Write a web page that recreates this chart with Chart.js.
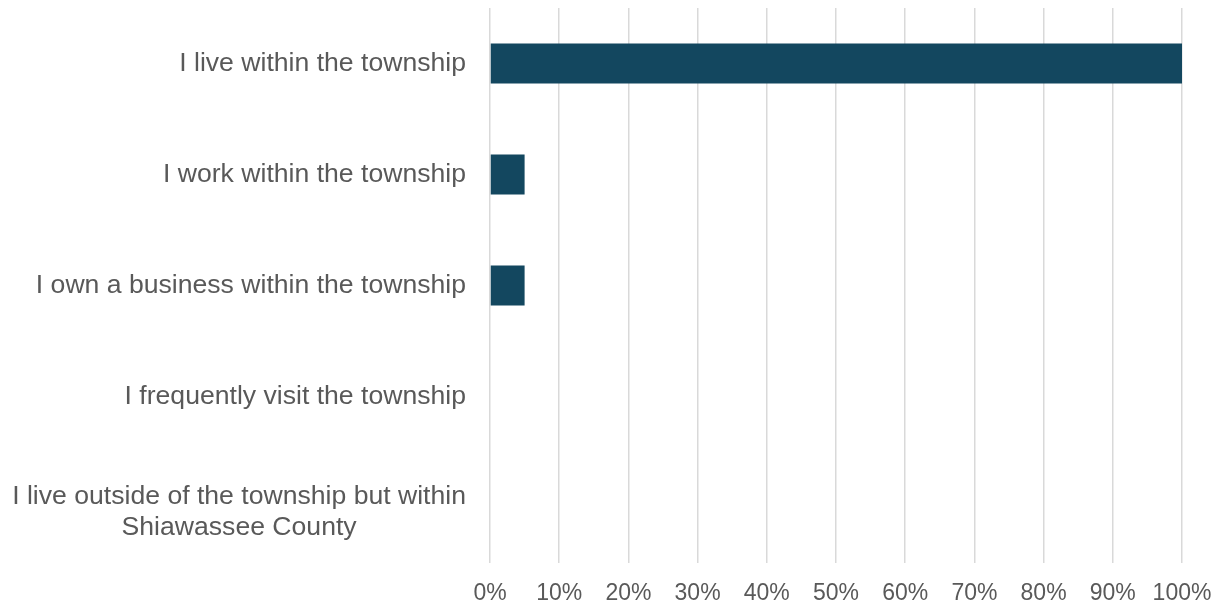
<!DOCTYPE html>
<html lang="en">
<head>
  <meta charset="UTF-8">
  <title>Relationship to the township</title>
  <script src="https://cdn.jsdelivr.net/npm/chart.js"></script>
  <style>
    html, body { margin: 0; padding: 0; background: #fff; }
    .wrap { width: 1217px; height: 605px; }
  </style>
</head>
<body>
  <div class="wrap"><canvas id="chart"></canvas></div>
  <script>
    // categories (multi-line labels are arrays)
    const categories = [
      'I live within the township',
      'I work within the township',
      'I own a business within the township',
      'I frequently visit the township',
      ['I live outside of the township but within', 'Shiawassee County']
    ];
    // share of respondents, percent
    const shares = [100, 5, 5, 0, 0];
    const xTicks = [0, 10, 20, 30, 40, 50, 60, 70, 80, 90, 100];

    const fontFamily = '"Liberation Sans", Arial, sans-serif';
    const labelFont = '26.6px ' + fontFamily;
    const textGray = '#595959';

    // Excel-style y labels: block right-aligned, lines centred within the block
    const yLabelPlugin = {
      id: 'yLabels',
      afterDraw(chart) {
        const ctx = chart.ctx;
        const y = chart.scales.y;
        const right = y.right - 24;
        ctx.save();
        ctx.font = labelFont;
        ctx.fillStyle = textGray;
        ctx.textAlign = 'center';
        ctx.textBaseline = 'middle';
        categories.forEach((lab, i) => {
          const lines = Array.isArray(lab) ? lab : [lab];
          const w = Math.max(...lines.map(l => ctx.measureText(l).width));
          const cx = right - w / 2;
          const cy = y.getPixelForTick(i) + (lines.length > 1 ? 5 : 0);
          const lh = 31;
          lines.forEach((l, j) => {
            ctx.fillText(l, cx, cy + (j - (lines.length - 1) / 2) * lh);
          });
        });
        ctx.restore();
      }
    };

    new Chart(document.getElementById('chart'), {
      type: 'bar',
      data: {
        labels: categories,
        datasets: [{
          data: shares,
          backgroundColor: '#13475f',
          barThickness: 40,
          inflateAmount: 0
        }]
      },
      options: {
        indexAxis: 'y',
        responsive: true,
        maintainAspectRatio: false,
        animation: false,
        layout: { padding: { top: 8, right: 35, bottom: 0, left: 0 } },
        plugins: {
          legend: { display: false },
          tooltip: { enabled: false }
        },
        scales: {
          x: {
            min: 0,
            max: 100,
            afterBuildTicks(scale) {
              scale.ticks = xTicks.map(v => ({ value: v }));
            },
            afterFit(scale) {
              scale.height = 42;
              scale.paddingLeft = 0;
              scale.paddingRight = 0;
              scale.paddingBottom = 0;
            },
            ticks: {
              color: textGray,
              font: { family: fontFamily, size: 23 },
              padding: 17,
              maxRotation: 0,
              callback: v => v + '%'
            },
            grid: { color: '#d9d9d9', lineWidth: 1.5, drawTicks: false },
            border: { display: false }
          },
          y: {
            afterFit(scale) { scale.width = 490; },
            ticks: { display: false },
            grid: { display: false, drawTicks: false },
            border: { display: false }
          }
        }
      },
      plugins: [yLabelPlugin]
    });
  </script>
</body>
</html>
